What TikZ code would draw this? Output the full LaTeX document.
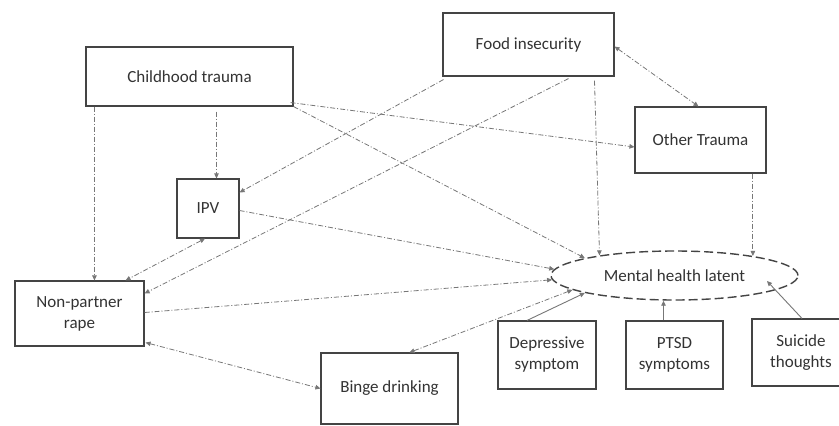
\documentclass[tikz,border=0pt]{standalone}
\usepackage{fontspec}
\setmainfont{Carlito}
\usetikzlibrary{arrows.meta,shapes.geometric,calc}
\definecolor{boxc}{HTML}{444444}
\definecolor{linec}{HTML}{777777}
\definecolor{txtc}{HTML}{333333}
\begin{document}
\begin{tikzpicture}[x=1pt,y=-1pt,
  box/.style={draw=boxc,line width=1.1pt,rectangle,inner sep=0pt,align=center,text=txtc,font=\fontsize{17}{21}\selectfont},
  latent/.style={draw=boxc,line width=1.4pt,ellipse,inner sep=0pt,dash pattern=on 9pt off 4pt,text=txtc,font=\fontsize{17}{21}\selectfont},
  dline/.style={draw=linec,line width=0.8pt,dash pattern=on 5pt off 2pt on 1pt off 2pt,-{Triangle[length=5pt,width=4.5pt]}},
  ddline/.style={dline,{Triangle[length=5pt,width=4.5pt]}-{Triangle[length=5pt,width=4.5pt]}},
  sline/.style={draw=linec,line width=0.9pt,-{Triangle[length=5pt,width=4.5pt]}}]
\useasboundingbox (0,0) rectangle (839,426);
\clip (0,0) rectangle (839,426);
\fill[white] (0,0) rectangle (839,426);

\node[box,minimum width=207pt,minimum height=59pt] (ct) at (189.5,76.5) {Childhood trauma};
\node[box,minimum width=62pt,minimum height=59pt] (ipv) at (208,208.5) {IPV};
\node[box,minimum width=171pt,minimum height=63pt] (fi) at (528.5,44.5) {Food insecurity};
\node[box,minimum width=131pt,minimum height=66pt] (ot) at (700.5,140) {Other Trauma};
\node[box,minimum width=129pt,minimum height=65pt] (nr) at (79.5,313.5) {Non-partner\\rape};
\node[box,minimum width=137pt,minimum height=71pt] (bd) at (389.5,388.5) {Binge drinking};
\node[box,minimum width=98pt,minimum height=68pt] (ds) at (547,355) {Depressive\\symptom};
\node[box,minimum width=97pt,minimum height=68pt] (ps) at (674.5,355) {PTSD\\symptoms};
\node[box,minimum width=98pt,minimum height=67pt] (st) at (801,352.5) {Suicide\\thoughts};
\node[latent,minimum width=247pt,minimum height=49pt] (ml) at (674.5,275.5) {Mental health latent};

% Childhood trauma
\draw[dline] ($(ct.south west)+(9,0)$) coordinate (a1) -- (a1 |- nr.north);
\draw[dline] ($(ct.south)+(27,5)$) coordinate (a2) -- (a2 |- ipv.north);
\draw[dline] ($(ct.south east)+(-3,-4)$) -- ($(ot.west)+(0,7)$);
\draw[dline] (ct.south east) -- (ml.169);

% Food insecurity
\draw[dline] ($(fi.south west)+(1,3)$) -- ($(ipv.north east)+(0,14)$);
\draw[dline] ($(fi.south)+(40,2)$) -- ($(nr.north east)+(0,13)$);
\draw[dline] ($(fi.south)+(66,4)$) -- (ml.165.6);
\draw[ddline] ($(fi.east)+(0,2)$) -- ($(ot.north)+(-2,0)$);

% Other trauma
\draw[dline] (ml.14.4 |- ot.south) -- (ml.14.4);

% IPV
\draw[dline] ($(ipv.east)+(0,2)$) -- (ml.177);
\draw[ddline] ($(ipv.south)+(-3,0)$) -- ($(nr.north east)+(-19,0)$);

% Non-partner rape
\draw[dline] ($(nr.east)+(0,-1)$) -- (ml.182);
\draw[ddline] ($(nr.south east)+(1,-4)$) -- (bd.west);

% Binge drinking
\draw[ddline] ($(bd.north)+(20,0)$) -- (ml.188.5);

% Indicators
\draw[sline] ($(ds.north)+(-20,0)$) -- (ml.191);
\draw[sline] ($(ps.north)+(-11,0)$) coordinate (a3) -- (a3 |- ml.south);
\draw[sline] ($(st.north)+(1,0)$) -- ($(ml.center)+(92.5,5.5)$) coordinate (mlin);
\end{tikzpicture}
\end{document}
